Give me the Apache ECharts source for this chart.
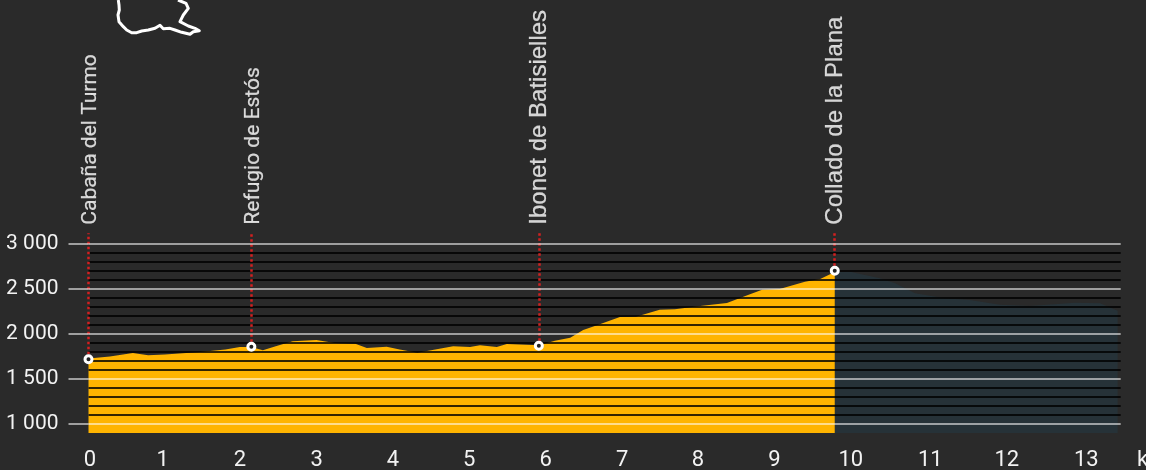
<!DOCTYPE html>
<html>
<head>
<meta charset="utf-8">
<script src="https://cdn.jsdelivr.net/npm/echarts@6/dist/echarts.min.js"></script>
<style>
  html, body { margin: 0; padding: 0; background: #fff; }
  #chart { width: 1146px; height: 470px; }
</style>
</head>
<body>
<div id="chart"></div>
<script>
// profile already walked, [km, m]
const walkedKm = [0, 0.28, 0.58, 0.78, 1.0, 1.46, 1.79, 1.98, 2.13, 2.28, 2.47, 2.67, 2.98, 3.22, 3.49, 3.64, 3.9, 4.07, 4.3, 4.77, 4.99, 5.12, 5.34, 5.47, 5.89, 6.1, 6.3, 6.47, 6.65, 6.95, 7.16, 7.47, 7.67, 8.0, 8.35, 8.59, 8.81, 9.04, 9.37, 9.57, 9.76];
const walkedElev = [1728, 1750, 1789, 1763, 1772, 1800, 1828, 1856, 1856, 1819, 1870, 1919, 1933, 1900, 1892, 1844, 1859, 1828, 1792, 1863, 1856, 1874, 1856, 1889, 1874, 1926, 1959, 2044, 2097, 2189, 2192, 2270, 2274, 2311, 2344, 2422, 2492, 2500, 2581, 2611, 2689];
// rest of the route
const restKm = [9.76, 9.96, 10.35, 10.55, 10.81, 11.2, 11.53, 11.92, 12.31, 12.9, 13.23, 13.46];
const restElev = [2689, 2692, 2619, 2563, 2452, 2397, 2378, 2326, 2311, 2348, 2341, 2259];

const stopNames = ["Cabaña del Turmo", "Refugio de Estós", "Ibonet de Batisielles", "Collado de la Plana"];
const stopKm = [0, 2.13, 5.89, 9.76];
const stopElev = [1720, 1859, 1870, 2703];

const majorTicks = [1000, 1500, 2000, 2500, 3000];
const majorLabels = ["1 000", "1 500", "2 000", "2 500", "3 000"];
const minorTicks = [1100, 1200, 1300, 1400, 1600, 1700, 1800, 1900, 2100, 2200, 2300, 2400, 2600, 2700, 2800, 2900];
const kmTicks = [0.02, 0.97, 1.98, 2.985, 3.98, 4.98, 5.98, 6.98, 7.97, 8.97, 9.97, 11.01, 12.01, 13.05];
const kmLabels = ["0", "1", "2", "3", "4", "5", "6", "7", "8", "9", "10", "11", "12", "13"];

const yMin = 900;
const yMax = 3120;

const myChart = echarts.init(document.getElementById("chart"));

const zip = (xs, ys) => xs.map((x, i) => [x, ys[i]]);

const option = {
  backgroundColor: "#2a2a2a",
  animation: false,
  grid: { left: 88.5, right: 25.3, top: 233.2, bottom: 37, outerBoundsMode: "none" },
  xAxis: {
    type: "value",
    min: 0,
    max: 13.5,
    splitLine: { show: false },
    axisLine: { show: false },
    axisTick: { show: false },
    axisLabel: {
      customValues: kmTicks,
      formatter: v => kmLabels[kmTicks.indexOf(v)],
      color: "#f2f2f2",
      fontFamily: "Roboto",
      fontSize: 22,
      margin: 16
    }
  },
  yAxis: [
    {
      // 100 m lines
      type: "value",
      position: "left",
      min: yMin,
      max: yMax,
      z: 5,
      axisLine: { show: false },
      axisLabel: { show: false },
      axisTick: { show: false, customValues: minorTicks },
      splitLine: { show: true, lineStyle: { color: "rgba(0,0,0,0.8)", width: 2 } }
    },
    {
      // 500 m lines + labels
      type: "value",
      position: "left",
      min: yMin,
      max: yMax,
      z: 6,
      axisLine: { show: false },
      axisTick: {
        show: true,
        customValues: majorTicks,
        length: 20,
        lineStyle: { color: "rgba(255,255,255,0.55)", width: 2 }
      },
      axisLabel: {
        customValues: majorTicks,
        formatter: v => majorLabels[majorTicks.indexOf(v)],
        color: "#f2f2f2",
        fontFamily: "Roboto",
        fontSize: 21,
        padding: [2, 0, 0, 0],
        margin: 30
      },
      splitLine: { show: true, lineStyle: { color: "rgba(255,255,255,0.55)", width: 2 } }
    }
  ],
  graphic: [
    {
      type: "polyline",
      shape: {
        points: [[118.3, 0], [119, 5], [119.3, 10], [118, 15], [119, 21.7], [123.3, 26.7], [126.7, 30], [131.7, 32.7], [136.7, 32.7], [141.7, 31], [148.3, 30], [155, 28.3], [160, 25.3], [163.3, 28.7], [170, 28.3], [175, 30], [181.7, 32.3], [190, 34.3], [193.3, 31.7], [199.3, 30.7], [195, 28.3], [188.3, 26], [180, 21.7], [183.3, 15], [188.3, 8.3], [186, 3.3], [178, 0]]
      },
      style: { stroke: "#ffffff", lineWidth: 3, lineJoin: "round", fill: null }
    },
    {
      type: "text",
      x: 1137,
      y: 449,
      style: { text: "km", fill: "#f2f2f2", font: '22px Roboto' }
    }
  ],
  series: [
    {
      name: "rest",
      type: "line",
      data: zip(restKm, restElev),
      showSymbol: false,
      symbol: "none",
      lineStyle: { width: 0 },
      areaStyle: { color: "#263238", opacity: 1, origin: "start" },
      z: 2
    },
    {
      name: "walked",
      type: "line",
      data: zip(walkedKm, walkedElev),
      showSymbol: false,
      symbol: "none",
      lineStyle: { width: 0 },
      areaStyle: { color: "#ffb400", opacity: 1, origin: "start" },
      z: 3
    },
    {
      name: "stops",
      type: "scatter",
      data: zip(stopKm, stopElev),
      symbolSize: 7,
      itemStyle: { color: "#222222", borderColor: "#ffffff", borderWidth: 3, opacity: 1 },
      clip: false,
      z: 10,
      markLine: {
        silent: true,
        symbol: "none",
        animation: false,
        label: { show: false },
        lineStyle: { color: "#d32020", type: [2.5, 2.5], width: 2.5, opacity: 1 },
        data: stopKm.map((km, i) => [{ coord: [km, stopElev[i]] }, { coord: [km, yMax] }])
      }
    },
    {
      name: "stop names",
      type: "scatter",
      symbolSize: 1,
      itemStyle: { color: "transparent" },
      clip: false,
      z: 11,
      data: stopNames.map((name, i) => ({
        value: [stopKm[i], yMax],
        name: name,
        label: {
          show: true,
          position: [i < 2 ? 2.5 : 1, -8],
          rotate: 90,
          align: "left",
          verticalAlign: "middle",
          formatter: "{b}",
          color: "#ffffff",
          textBorderColor: "#ffffff",
          textBorderWidth: 0.2,
          fontSize: i < 2 ? 21 : 24,
          fontFamily: i < 2 ? "Roboto" : "Liberation Sans"
        }
      }))
    }
  ]
};

myChart.setOption(option);
</script>
</body>
</html>
